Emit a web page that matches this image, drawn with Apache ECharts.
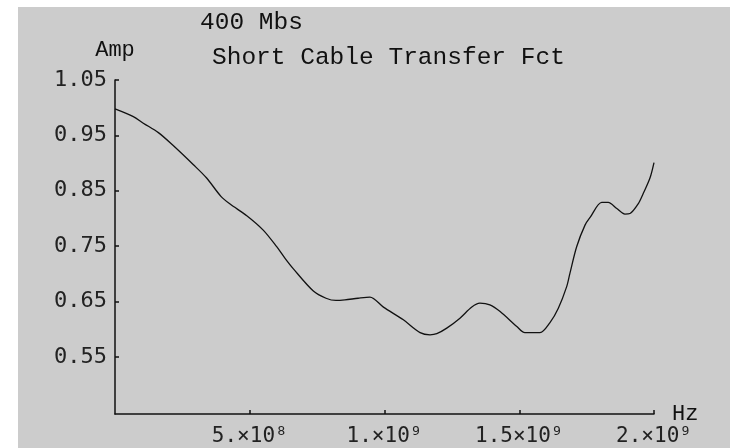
<!DOCTYPE html>
<html>
<head>
<meta charset="utf-8">
<script src="https://cdn.jsdelivr.net/npm/echarts@6/dist/echarts.min.js"></script>
<style>
body{
    margin:0;
    background:#fff;
}
.charts{
    position:absolute;
    left:18px;
    top:7px;
    width:712px;
    height:441px;
    background:#cccccc;
}
</style>
</head>
<body>
<div class="charts" id="chart"></div>
<script>
// frequency in GHz, amplitude
const freq = [0, 0.068, 0.105, 0.161, 0.213, 0.291, 0.340, 0.393, 0.427, 0.489,
    0.550, 0.600, 0.631, 0.662, 0.736, 0.783, 0.820, 0.853, 0.902, 0.946,
    0.996, 1.070, 1.132, 1.169, 1.194, 1.231, 1.280, 1.324, 1.354, 1.391,
    1.429, 1.491, 1.521, 1.577, 1.614, 1.645, 1.676, 1.688, 1.713, 1.744,
    1.763, 1.806, 1.830, 1.862, 1.892, 1.911, 1.942, 1.960, 1.985, 2.0];
const amp = [0.998, 0.984, 0.972, 0.955, 0.933, 0.897, 0.873, 0.840, 0.826, 0.805,
    0.779, 0.749, 0.728, 0.709, 0.669, 0.656, 0.652, 0.653, 0.656, 0.658,
    0.640, 0.617, 0.594, 0.590, 0.592, 0.602, 0.620, 0.640, 0.647, 0.644,
    0.632, 0.605, 0.594, 0.594, 0.612, 0.638, 0.677, 0.701, 0.749, 0.788,
    0.802, 0.829, 0.829, 0.818, 0.808, 0.809, 0.827, 0.845, 0.873, 0.901];

const xTicks = [0.5, 1, 1.5, 2];
const xTickLabels = ['5.×10⁸', '1.×10⁹', '1.5×10⁹', '2.×10⁹'];
const yTicks = [0.55, 0.65, 0.75, 0.85, 0.95, 1.05];
const yTickLabels = ['0.55', '0.65', '0.75', '0.85', '0.95', '1.05'];

const chart = echarts.init(document.getElementById('chart'));
const font = 'DejaVu Sans Mono';
const titleFont = 'Liberation Mono';

const option = {
    animation:false,
    title:[
        {
            text:'400 Mbs',
            left:182,
            top:3,
            padding:0,
            textStyle:{fontFamily:titleFont, fontSize:24.5, fontWeight:'normal', color:'#111'}
        },
        {
            text:'Short Cable Transfer Fct',
            left:194,
            top:38,
            padding:0,
            textStyle:{fontFamily:titleFont, fontSize:24.5, fontWeight:'normal', color:'#111'}
        }
    ],
    grid:{
        left:97,
        top:73,
        width:539,
        height:334,
        containLabel:false
    },
    xAxis:{
        type:'value',
        min:0,
        max:2,
        name:'Hz',
        nameLocation:'end',
        nameGap:18,
        nameTextStyle:{fontFamily:titleFont, fontSize:22, color:'#111', padding:[0,0,9,0]},
        splitLine:{show:false},
        axisLine:{lineStyle:{color:'#111', width:1.5}},
        axisTick:{
            inside:true,
            length:4,
            customValues:xTicks,
            lineStyle:{color:'#111', width:1.5}
        },
        axisLabel:{
            customValues:xTicks,
            margin:12,
            fontFamily:font,
            fontSize:21,
            color:'#222',
            formatter:function(v){
                const i = xTicks.indexOf(v);
                return i >= 0 ? xTickLabels[i] : '';
            }
        }
    },
    yAxis:{
        type:'value',
        min:0.447,
        max:1.05,
        name:'Amp',
        nameLocation:'end',
        nameGap:19,
        nameTextStyle:{fontFamily:titleFont, fontSize:22, color:'#111'},
        splitLine:{show:false},
        axisLine:{lineStyle:{color:'#111', width:1.5}},
        axisTick:{
            inside:true,
            length:4,
            customValues:yTicks,
            lineStyle:{color:'#111', width:1.5}
        },
        axisLabel:{
            customValues:yTicks,
            margin:8,
            fontFamily:font,
            fontSize:22,
            color:'#222',
            formatter:function(v){
                const i = yTicks.findIndex(t => Math.abs(t - v) < 1e-6);
                return i >= 0 ? yTickLabels[i] : '';
            }
        }
    },
    series:[{
        type:'line',
        data:freq.map((f, i) => [f, amp[i]]),
        smooth:0.3,
        showSymbol:false,
        lineStyle:{color:'#111', width:1.3}
    }]
};

chart.setOption(option);
</script>
</body>
</html>
